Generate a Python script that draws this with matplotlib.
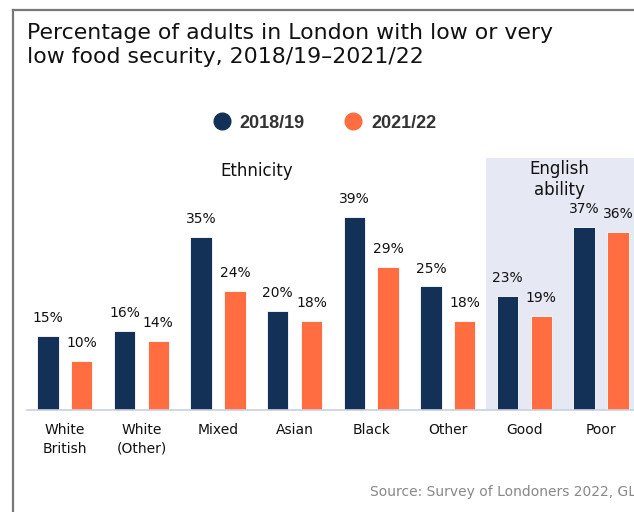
import matplotlib
matplotlib.use("Agg")
import matplotlib.pyplot as plt
from matplotlib.lines import Line2D

categories = ["White\nBritish", "White\n(Other)", "Mixed", "Asian", "Black", "Other", "Good", "Poor"]
vals_2018 = [15, 16, 35, 20, 39, 25, 23, 37]
vals_2021 = [10, 14, 24, 18, 29, 18, 19, 36]
series_names = ["2018/19", "2021/22"]

NAVY = "#133156"
ORANGE = "#ff6d40"
SHADE = "#e6e9f4"

plt.rcParams["font.family"] = ["DejaVu Sans"]

fig = plt.figure(figsize=(6.34, 5.12), dpi=100)
ax = fig.add_axes([26.5 / 634, 0.199, 1 - 26.5 / 634, 0.4932])

x = list(range(len(categories)))
w = 0.28
off = 0.22
ax.axvspan(5.5, 7.6, color=SHADE, lw=0, zorder=0)
b1 = ax.bar([i - off for i in x], vals_2018, width=w, color=NAVY, edgecolor="white", lw=0.6, zorder=2)
b2 = ax.bar([i + off for i in x], vals_2021, width=w, color=ORANGE, edgecolor="white", lw=0.6, zorder=2)

for bars, vals in ((b1, vals_2018), (b2, vals_2021)):
    for r, v in zip(bars, vals):
        ax.text(r.get_x() + r.get_width() / 2, v + 3.6, f"{v}%", ha="center", va="center",
                fontsize=10, color="#111111")

ax.set_xlim(-0.5, 7.43)
ax.set_ylim(0, 51)
ax.set_xticks(x)
ax.set_xticklabels(categories, fontsize=10, color="#111111", linespacing=1.45, va="top")
ax.tick_params(axis="x", length=0, pad=9)
ax.set_yticks([])
for s in ("top", "right", "left"):
    ax.spines[s].set_visible(False)
ax.spines["bottom"].set_color("#c9d0e3")
ax.spines["bottom"].set_linewidth(1.2)

ax.text(2.51, 48.3, "Ethnicity", ha="center", va="center", fontsize=12, color="#111111")
ax.text(6.46, 46.6, "English\nability", ha="center", va="center", fontsize=12,
        color="#111111", linespacing=1.2)

# title and source
fig.text(27 / 634, 1 - 23 / 512, "Percentage of adults in London with low or very\nlow food security, 2018/19\u20132021/22",
         ha="left", va="top", fontsize=15.8, color="#111111", linespacing=1.25)
fig.text(370 / 634, 1 - 492 / 512, "Source: Survey of Londoners 2022, GLA", ha="left", va="center",
         fontsize=10, color="#888888")

# legend
handles = [Line2D([], [], marker="o", ls="", markersize=12, color=c) for c in (NAVY, ORANGE)]
fig.legend(handles, series_names, loc="center", bbox_to_anchor=(320 / 634, 1 - 123 / 512), ncol=2,
           frameon=False, handletextpad=0.0, columnspacing=1.67,
           prop={"family": "Liberation Sans", "weight": "bold", "size": 13})
for t in fig.legends[0].get_texts():
    t.set_color("#333333")

# outer frame, cropped on right and bottom
fig.add_artist(Line2D([13 / 634, 13 / 634], [0, 1 - 10 / 512], color="#777777", lw=1.6))
fig.add_artist(Line2D([13 / 634, 1], [1 - 10 / 512, 1 - 10 / 512], color="#777777", lw=1.6))

fig.savefig("out.png", dpi=100)
